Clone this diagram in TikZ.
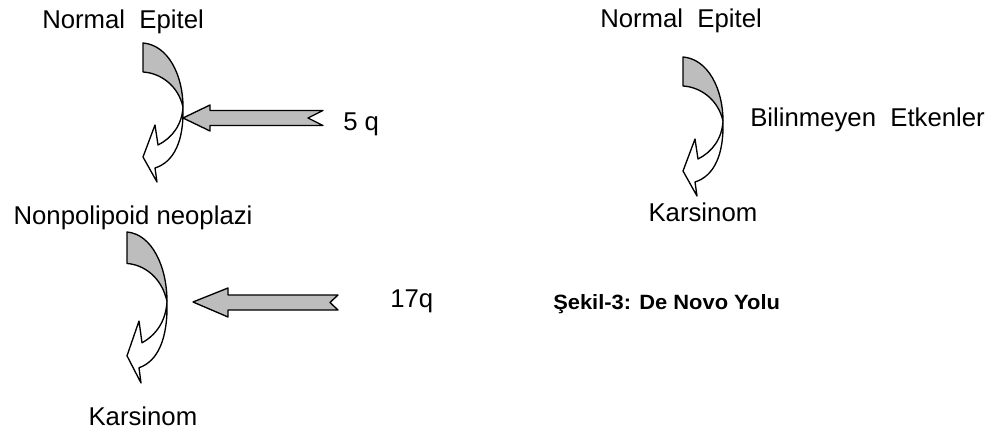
\documentclass[tikz,border=0pt]{standalone}
\usepackage{fontspec}
\setmainfont{Liberation Sans}
\begin{document}
\begin{tikzpicture}[x=0.75pt,y=-0.75pt,
  lbl/.style={font=\fontsize{19.3}{22}\selectfont, inner sep=0pt, anchor=base west},
  captext/.style={font=\fontsize{15.5}{18}\selectfont\bfseries, inner sep=0pt, anchor=base west},
  backband/.style={fill=gray!52, draw=black, line width=1pt, line join=round},
  frontband/.style={fill=white, draw=black, line width=1pt, line join=round},
  blockarrow/.style={fill=gray!52, draw=black, line width=1pt, line join=round},
  curvarr/.pic={
    \path[backband] (0,0) .. controls (25,2) and (40,32) .. (40,64)
       .. controls (35,42) and (17,30) .. (0,29) -- cycle;
    \path[frontband] (40,64) .. controls (41,98) and (31,119) .. (12,125)
       -- (14,139) -- (0,114) -- (12,82) -- (15,102)
       .. controls (29,95) and (39,82) .. (40,64) -- cycle;
  }]
\useasboundingbox (0,0) rectangle (1000,435);
\fill[white] (0,0) rectangle (1000,435);

% left column
\node[lbl] (ne1) at (42,28.3) {Normal~~Epitel};
\pic (c1) at (143,43) {curvarr};
\node[lbl] (np) at (13.3,224.3) {Nonpolipoid neoplazi};
\pic[yscale=1.086] (c2) at (127,232) {curvarr};
\node[lbl] (k1) at (88.3,425.7) {Karsinom};

% block arrows
\path[blockarrow] (183,118) -- (210,105) -- (210,110.5) -- (323,110.5) -- (308,118)
  -- (323,125.5) -- (210,125.5) -- (210,131) -- cycle;
\node[lbl] (q5) at (343,130) {5 q};
\path[blockarrow] (193,302) -- (228,288) -- (228,295) -- (338,295) -- (330,302.5)
  -- (338,310) -- (228,310) -- (228,317) -- cycle;
\node[lbl] (q17) at (390,307) {17q};

% right column
\node[lbl] (ne2) at (600,27.3) {Normal~~Epitel};
\pic (c3) at (683,57) {curvarr};
\node[lbl] (be) at (750,126.7) {Bilinmeyen~~Etkenler};
\node[lbl] (k2) at (648.3,221.7) {Karsinom};

% caption
\node[captext] (sk) at (553,309.3) {\scalebox{1.06}[1]{Şekil-3: De Novo Yolu}};
\end{tikzpicture}
\end{document}
